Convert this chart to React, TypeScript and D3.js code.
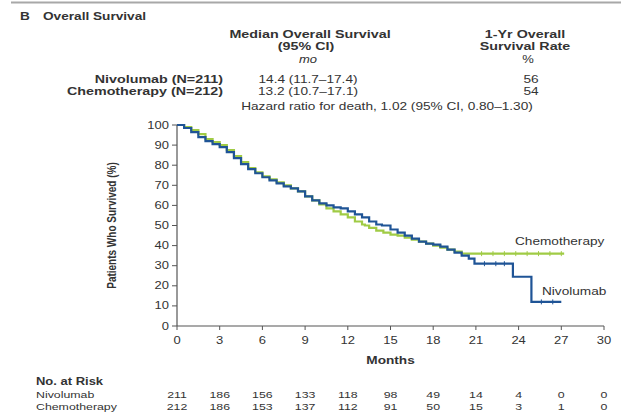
import React from "react";
import * as d3 from "d3";

// Kaplan–Meier estimates (months, % surviving), one step per entry
const nivoTimes = [0, 0.5, 1.0, 1.5, 2.0, 2.5, 3.0, 3.5, 4.0, 4.5, 5.0, 5.5, 6.0, 6.5, 7.0, 7.5, 8.0, 8.5, 9.0, 9.5, 10.0, 10.5, 11.0, 11.5, 12.0, 12.5, 13.0, 13.5, 14.0, 14.4, 15.0, 15.5, 16.0, 16.5, 17.0, 17.5, 18.0, 18.5, 19.0, 19.5, 20.0, 20.5, 20.9, 23.6, 24.9, 27.0];
const nivoSurv = [100, 98.5, 96.5, 94, 92, 90.5, 89, 86.5, 83.5, 80.5, 78, 76, 74, 72.5, 71, 69.5, 68.5, 67, 64.5, 62.5, 61, 60, 59, 58.5, 57, 55.5, 54, 52, 50.5, 50, 48, 46.5, 45, 43.5, 42, 41, 40.5, 39.5, 38, 36.5, 35, 33.5, 31, 24.5, 12, 12];

const chemoTimes = [0, 0.5, 1.0, 1.5, 2.0, 2.5, 3.0, 3.5, 4.0, 4.5, 5.0, 5.5, 6.0, 6.5, 7.0, 7.5, 8.0, 8.5, 9.0, 9.5, 10.0, 10.5, 11.0, 11.5, 12.0, 12.5, 13.0, 13.2, 13.5, 14.0, 14.5, 15.0, 15.5, 16.0, 16.5, 17.0, 17.5, 18.0, 18.5, 19.0, 19.5, 20.0, 27.2];
const chemoSurv = [100, 99, 97.5, 95.5, 93, 91.5, 90, 87.5, 84.5, 81.5, 78.5, 76.5, 74.5, 73, 71.5, 70, 68.5, 67, 64.5, 62.5, 60.5, 58.5, 57, 55.5, 54, 52, 50.5, 50, 48.8, 47.5, 46.5, 45.5, 45, 44, 43, 42, 41, 40, 39, 38, 37, 36, 36];

// censored observations (months)
const nivoCensor = [21.6, 22.4, 23.0, 25.6, 26.4];
const chemoCensor = [21.4, 22.2, 23.0, 23.8, 24.6, 25.4, 26.2, 27.0];

const xTicks = [0, 3, 6, 9, 12, 15, 18, 21, 24, 27, 30];
const yTicks = [0, 10, 20, 30, 40, 50, 60, 70, 80, 90, 100];

const riskNivo = [211, 186, 156, 133, 118, 98, 49, 14, 4, 0, 0];
const riskChemo = [212, 186, 153, 137, 112, 91, 50, 15, 3, 1, 0];

const groupNames = ["Nivolumab (N=211)", "Chemotherapy (N=212)"];
const medianOS = ["14.4 (11.7\u201317.4)", "13.2 (10.7\u201317.1)"];
const oneYrRate = ["56", "54"];

const W = 621;
const H = 416;
const SX = 1.3;
const FONT = "'Liberation Sans', Arial, sans-serif";
const INK = "#333333";
const BLUE = "#1f5496";
const GREEN = "#a0cb45";

type TProps = {
  x: number;
  y: number;
  anchor?: "start" | "middle" | "end";
  weight?: number;
  italic?: boolean;
  size?: number;
  fill?: string;
  children: React.ReactNode;
};

function T({ x, y, anchor = "start", weight = 400, italic = false, size = 11.5, fill = INK, children }: TProps) {
  return (
    <text
      transform={`translate(${x},${y}) scale(${SX},1)`}
      textAnchor={anchor}
      fontSize={size}
      fontWeight={weight}
      fontStyle={italic ? "italic" : "normal"}
      fontFamily={FONT}
      fill={fill}
    >
      {children}
    </text>
  );
}

function stepValue(times: number[], surv: number[], t: number) {
  const i = d3.bisectRight(times, t) - 1;
  return surv[Math.max(0, i)];
}

export default function App() {
  const x = d3.scaleLinear().domain([0, 30]).range([177, 604]);
  const y = d3.scaleLinear().domain([0, 100]).range([326, 125]);

  const line = d3
    .line<[number, number]>()
    .x((d) => x(d[0]))
    .y((d) => y(d[1]))
    .curve(d3.curveStepAfter);

  const nivoPts = nivoTimes.map((t, i) => [t, nivoSurv[i]] as [number, number]);
  const chemoPts = chemoTimes.map((t, i) => [t, chemoSurv[i]] as [number, number]);

  return (
    <div style={{ position: "fixed", left: 0, top: 0 }}>
      <svg width={W} height={H} viewBox={`0 0 ${W} ${H}`} style={{ display: "block", background: "#fff" }}>
        <rect width={W} height={H} fill="#fff" />
        <line x1={11} x2={W} y1={2.5} y2={2.5} stroke="#a8a8a8" strokeWidth={2} />

        <T x={20} y={20} weight={700} size={10.5}>B</T>
        <T x={43} y={20} weight={700} size={10.5}>Overall Survival</T>

        {/* summary table */}
        <T x={310} y={38} anchor="middle" weight={700} size={11}>Median Overall Survival</T>
        <T x={306} y={50} anchor="middle" weight={700} size={11}>(95% CI)</T>
        <T x={308} y={63} anchor="middle" italic size={10}>mo</T>
        <T x={525} y={38} anchor="middle" weight={700} size={11}>1-Yr Overall</T>
        <T x={525} y={50} anchor="middle" weight={700} size={11}>Survival Rate</T>
        <T x={528} y={63} anchor="middle" size={10}>%</T>
        {groupNames.map((g, i) => (
          <g key={g}>
            <T x={223} y={83 + i * 12} anchor="end" weight={700} size={11}>{g}</T>
            <T x={308} y={83 + i * 12} anchor="middle" size={10.5}>{medianOS[i]}</T>
            <T x={531} y={83 + i * 12} anchor="middle" size={10.5}>{oneYrRate[i]}</T>
          </g>
        ))}
        <T x={387} y={110} anchor="middle" size={10.5}>Hazard ratio for death, 1.02 (95% CI, 0.80{"\u2013"}1.30)</T>

        {/* y axis */}
        <line x1={x(0)} x2={x(0)} y1={y(0)} y2={y(100)} stroke="#555" strokeWidth={1.2} />
        {yTicks.map((v) => (
          <g key={"y" + v}>
            <line x1={x(0) - 5} x2={x(0)} y1={y(v)} y2={y(v)} stroke="#555" strokeWidth={1} />
            <T x={169} y={y(v) + 3.5} anchor="end" size={10}>{v}</T>
          </g>
        ))}
        <text
          transform={`translate(116,${(y(0) + y(100)) / 2}) rotate(-90) scale(1,${SX})`}
          textAnchor="middle"
          fontSize={10}
          fontWeight={700}
          fontFamily={FONT}
          fill={INK}
        >
          Patients Who Survived (%)
        </text>

        {/* x axis */}
        <line x1={x(0)} x2={x(30)} y1={y(0)} y2={y(0)} stroke="#555" strokeWidth={1.2} />
        {xTicks.map((t) => (
          <g key={"x" + t}>
            <line x1={x(t)} x2={x(t)} y1={y(0)} y2={y(0) + 4} stroke="#555" strokeWidth={1} />
            <T x={x(t)} y={344} anchor="middle" size={10}>{t}</T>
          </g>
        ))}
        <T x={(x(0) + x(30)) / 2} y={364} anchor="middle" weight={700} size={10.5}>Months</T>

        {/* survival curves */}
        <path d={line(chemoPts) ?? ""} fill="none" stroke={GREEN} strokeWidth={2.2} />
        <path d={line(nivoPts) ?? ""} fill="none" stroke={BLUE} strokeWidth={2.2} />
        {chemoCensor.map((t) => {
          const v = stepValue(chemoTimes, chemoSurv, t);
          return <line key={"cc" + t} x1={x(t)} x2={x(t)} y1={y(v) - 2.5} y2={y(v) + 2.5} stroke={GREEN} strokeWidth={1} />;
        })}
        {nivoCensor.map((t) => {
          const v = stepValue(nivoTimes, nivoSurv, t);
          return <line key={"nc" + t} x1={x(t)} x2={x(t)} y1={y(v) - 2.5} y2={y(v) + 2.5} stroke={BLUE} strokeWidth={1} />;
        })}
        <T x={515} y={245} size={10.5}>Chemotherapy</T>
        <T x={542} y={295} size={10.5}>Nivolumab</T>

        {/* numbers at risk */}
        <T x={36} y={385} weight={700} size={10}>No. at Risk</T>
        <T x={36} y={398} size={9.5}>Nivolumab</T>
        <T x={36} y={410} size={9.5}>Chemotherapy</T>
        {xTicks.map((t, i) => (
          <g key={"r" + t}>
            <T x={x(t)} y={398} anchor="middle" size={9.5}>{riskNivo[i]}</T>
            <T x={x(t)} y={410} anchor="middle" size={9.5}>{riskChemo[i]}</T>
          </g>
        ))}
      </svg>
    </div>
  );
}
